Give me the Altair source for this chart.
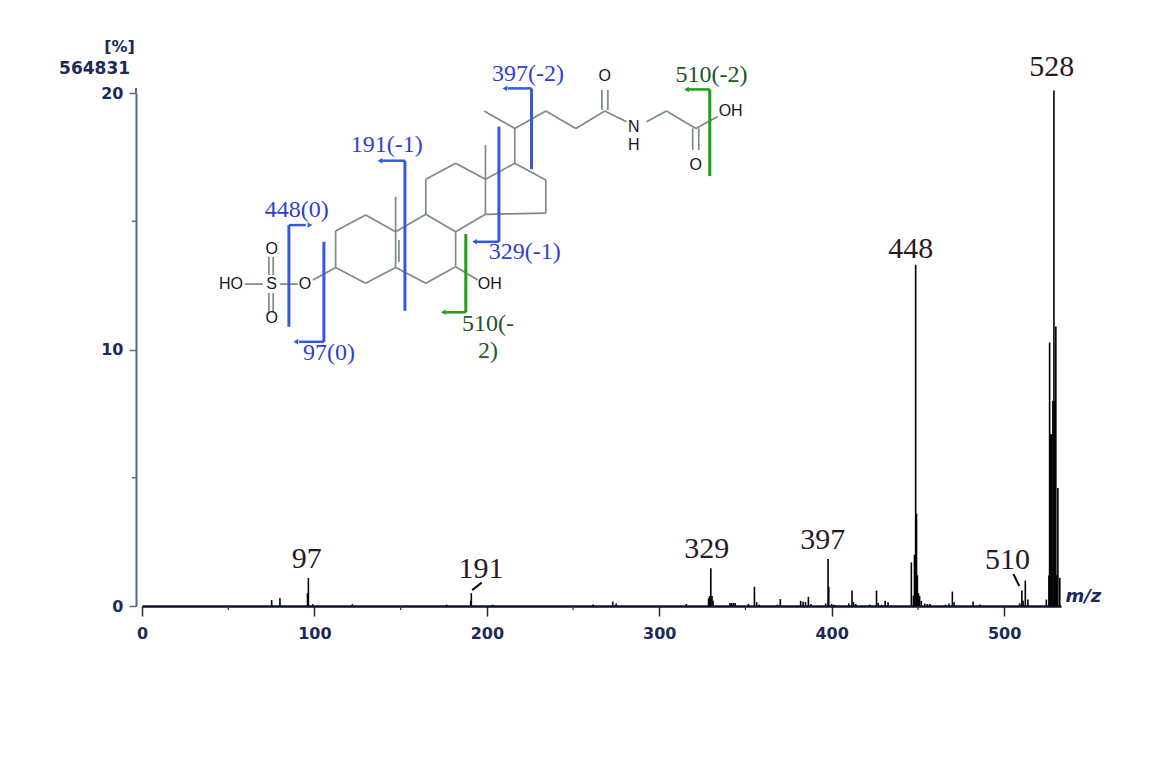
import altair as alt
import pandas as pd

# --- spectrum (m/z, relative intensity %) ---
PEAK_MZ = [75.2, 80, 96.0, 96.5, 99, 122, 176.6, 190.6, 191, 203.3, 261.7, 273, 275, 315.7,
           328.6, 329.2, 329.9, 330.6, 331.2, 341, 342, 343, 344, 351.7, 355.2, 356.5, 358, 368.5, 370.2,
           382, 383.4, 384.8, 386.5, 388, 396.5, 397.9, 398.3, 400, 401.5, 409.9, 411.8, 412.7, 414,
           422, 426, 427, 429, 431, 432.7, 446.2, 447.4, 448, 448.7, 449.2, 449.7, 450.3, 451, 452,
           454, 455.5, 457, 466, 468, 470, 471, 482, 486, 509, 510.3, 511, 512.3, 513.8,
           524.5, 526.0, 526.4, 527.1, 527.7, 528.3, 528.9, 529.4, 530.0, 530.5, 531.2, 532.3]
PEAK_PCT = [0.23, 0.3, 0.5, 1.09, 0.07, 0.07, 0.05, 0.2, 0.5, 0.05, 0.06, 0.17, 0.1, 0.08,
            0.3, 0.39, 1.47, 0.39, 0.2, 0.12, 0.12, 0.12, 0.12, 0.08, 0.75, 0.15, 0.05, 0.05, 0.27,
            0.2, 0.17, 0.15, 0.36, 0.08, 0.1, 1.83, 0.75, 0.08, 0.05, 0.1, 0.6, 0.15, 0.08,
            0.05, 0.6, 0.12, 0.05, 0.2, 0.15, 1.7, 0.4, 2.0, 13.3, 3.6, 1.2, 0.5, 0.4, 0.2,
            0.1, 0.08, 0.08, 0.05, 0.1, 0.56, 0.15, 0.18, 0.06, 0.1, 0.6, 0.2, 0.99, 0.25,
            0.25, 1.2, 10.27, 6.7, 6.7, 8.0, 20.1, 8.0, 10.9, 1.2, 4.6, 1.1]

# --- annotations ---
PEAK_LABELS = ["97", "191", "329", "397", "448", "510", "528"]
PEAK_LABEL_X = [95.6, 196.6, 327.6, 394.8, 445.8, 502, 527.6]
PEAK_LABEL_Y = [1.83, 1.44, 2.22, 2.57, 13.92, 1.8, 21.0]
LEADER = {"x": [191.5, 197, 505.4, 508.8], "y": [0.62, 0.91, 1.25, 0.78], "g": [1, 1, 2, 2]}

FRAG_BLUE_LABELS = ["448(0)", "97(0)", "191(-1)", "329(-1)", "397(-2)"]
FRAG_BLUE_X = [89.7, 108.4, 142, 222, 223.8]
FRAG_BLUE_Y = [15.44, 9.86, 17.97, 13.80, 20.74]
FRAG_GREEN_LABELS = ["510(-2)", "510(-", "2)"]
FRAG_GREEN_X = [330.3, 200.6, 200.6]
FRAG_GREEN_Y = [20.70, 10.99, 9.94]

ATOM_LABELS = ["HO", "S", "O", "O", "O", "OH", "O", "N", "H", "O", "OH"]
ATOM_X = [51.6, 75.2, 94.5, 75.2, 75.2, 201.7, 268.4, 285.2, 285.2, 321.2, 341.4]
ATOM_Y = [12.55, 12.55, 12.55, 13.92, 11.24, 12.55, 20.66, 18.67, 17.97, 17.20, 19.30]

# --- structure bonds: x1, y1, x2, y2 (in chart units) ---
BONDS = [
    (112.3,14.62,129.7,15.24),(129.7,15.24,147.1,14.59),(147.1,14.59,147.1,13.20),
    (147.1,13.20,129.7,12.58),(129.7,12.58,112.3,13.20),(112.3,13.20,112.3,14.62),
    (149.0,14.27,149.0,13.41),
    (147.1,14.59,164.6,15.27),(164.6,15.27,181.9,14.59),(181.9,14.59,181.9,13.23),
    (181.9,13.23,164.6,12.58),(164.6,12.58,147.1,13.20),
    (164.6,15.27,164.6,16.64),(164.6,16.64,181.9,17.26),(181.9,17.26,199.2,16.64),
    (199.2,16.64,199.2,15.27),(199.2,15.27,181.9,14.59),
    (147.1,14.59,147.1,15.96),(199.2,16.64,199.2,17.97),
    (199.2,16.64,216.2,17.26),(216.2,17.26,234.2,16.61),(234.2,16.61,234.2,15.32),
    (234.2,15.32,199.2,15.27),
    (216.2,17.26,216.2,18.62),(216.2,18.62,198.4,19.30),(216.2,18.62,234.2,19.30),
    (234.2,19.30,251.6,18.62),(251.6,18.62,268.4,19.30),
    (266.7,19.34,266.7,20.12),(270.2,19.34,270.2,20.12),
    (268.4,19.30,281.0,18.88),(292.6,18.88,304.2,19.30),(304.2,19.30,321.2,18.62),
    (319.4,18.62,319.4,17.78),(322.9,18.62,322.9,17.78),(321.2,18.62,333.9,19.08),
    (112.3,13.20,99.1,12.71),(90.4,12.55,80.0,12.55),(70.1,12.55,59.7,12.55),
    (73.6,13.61,73.6,12.90),(76.1,13.61,76.1,12.90),(73.6,12.20,73.6,11.45),(76.1,12.20,76.1,11.45),
    (181.9,13.23,194.8,12.71),
]
BLUE_BARS = [
    (85.2,14.85,85.2,10.89),(105.5,14.20,105.5,10.30),(152.5,17.36,152.5,11.51),
    (207.0,18.69,207.0,14.20),(225.9,20.18,225.9,17.03),
]
BLUE_ARMS = [
    (85.2,14.85,95.0,14.85),(105.5,10.30,91.0,10.30),(152.5,17.36,139.0,17.36),
    (207.0,14.20,194.0,14.20),(225.9,20.18,212.0,20.18),
]
BLUE_TIPS = {"x": [97.4, 89.2, 138.0, 192.9, 210.4], "y": [14.85, 10.30, 17.36, 14.20, 20.18],
             "s": ["triangle-right", "triangle-left", "triangle-left", "triangle-left", "triangle-left"]}
GREEN_BARS = [(329.3,20.14,329.3,16.76),(187.8,14.50,187.8,11.45)]
GREEN_ARMS = [(329.3,20.14,317.0,20.14),(187.8,11.45,176.0,11.45)]
GREEN_TIPS = {"x": [315.8, 174.8], "y": [20.14, 11.45]}

X_TICKS = [0, 100, 200, 300, 400, 500]
X_MINOR = [50, 150, 250, 350, 450]
Y_TICKS = [0, 10, 20]
Y_MINOR = [5, 15]

NAVY = "#1c2a58"
AXIS_BLUE = "#56658f"
BLUE = "#3558dc"
BLUE_TEXT = "#2f3fcf"
GREEN = "#1f9e12"
GREEN_TEXT = "#1c5a24"
BOND = "#7d8a8a"

xs = alt.Scale(domain=[0, 533], nice=False, zero=False)
ys = alt.Scale(domain=[0, 20], nice=False, zero=False)
xa = alt.Axis(values=X_TICKS, format="d", grid=False, tickSize=10, tickWidth=1.5, tickColor=NAVY, title=None,
              domainColor="#0c1230", domainWidth=2.5, labelFont="DejaVu Sans", labelFontSize=16,
              labelFontWeight="bold", labelColor=NAVY, labelPadding=9, labelFlush=False)
ya = alt.Axis(values=Y_TICKS, format="d", grid=False, tickSize=7, tickWidth=1.5, tickColor=AXIS_BLUE, title=None,
              domainColor=AXIS_BLUE, domainWidth=2, offset=6, labelFont="DejaVu Sans", labelFontSize=16,
              labelFontWeight="bold", labelColor=NAVY, labelPadding=6)


def X(f):
    return alt.X(f, scale=xs, axis=xa, title=None)


def Y(f):
    return alt.Y(f, scale=ys, axis=ya, title=None)


def rule(rows, color, width):
    df = pd.DataFrame(rows, columns=["x", "y", "x2", "y2"])
    return alt.Chart(df).mark_rule(color=color, strokeWidth=width).encode(
        x=X("x:Q"), x2="x2:Q", y=Y("y:Q"), y2="y2:Q")


def text(labels, px, py, font, size, color, **kw):
    df = pd.DataFrame({"t": labels, "x": px, "y": py})
    return alt.Chart(df).mark_text(font=font, fontSize=size, color=color,
                                   align="center", baseline="middle", **kw).encode(
        x=X("x:Q"), y=Y("y:Q"), text="t:N")


minor_x = rule([(v, 0, v, -0.16) for v in X_MINOR], NAVY, 1.2)
minor_y = rule([(-3.5, v, -5.8, v) for v in Y_MINOR], AXIS_BLUE, 1.5)
y_top = rule([(-3.5, 20, -3.5, 20.2)], AXIS_BLUE, 2)

peaks = alt.Chart(pd.DataFrame({"mz": PEAK_MZ, "pct": PEAK_PCT, "b": [0] * len(PEAK_MZ)})).mark_rule(
    color="#000000", strokeWidth=1.6).encode(x=X("mz:Q"), y=Y("pct:Q"), y2="b:Q")

leader = alt.Chart(pd.DataFrame(LEADER)).mark_line(color="#111111", strokeWidth=2).encode(
    x=X("x:Q"), y=Y("y:Q"), detail="g:N")

blue_tips = alt.Chart(pd.DataFrame(BLUE_TIPS)).mark_point(filled=True, color=BLUE, size=30, opacity=1).encode(
    x=X("x:Q"), y=Y("y:Q"), shape=alt.Shape("s:N", scale=None))
green_tips = alt.Chart(pd.DataFrame(GREEN_TIPS)).mark_point(
    filled=True, color=GREEN, size=30, opacity=1, shape="triangle-left").encode(x=X("x:Q"), y=Y("y:Q"))

chart = alt.layer(
    minor_x, minor_y, y_top, peaks, leader,
    rule(BONDS, BOND, 1.7),
    rule(BLUE_BARS, BLUE, 3), rule(BLUE_ARMS, BLUE, 2.5), blue_tips,
    rule(GREEN_BARS, GREEN, 3), rule(GREEN_ARMS, GREEN, 2.5), green_tips,
    text(ATOM_LABELS, ATOM_X, ATOM_Y, "Liberation Sans", 16, "#15151c"),
    text(PEAK_LABELS, PEAK_LABEL_X, PEAK_LABEL_Y, "Liberation Serif", 30, "#2a1a20"),
    text(FRAG_BLUE_LABELS, FRAG_BLUE_X, FRAG_BLUE_Y, "Liberation Serif", 24, BLUE_TEXT),
    text(FRAG_GREEN_LABELS, FRAG_GREEN_X, FRAG_GREEN_Y, "Liberation Serif", 24, GREEN_TEXT),
    text(["m/z"], [546], [0.35], "DejaVu Sans", 18, NAVY, fontStyle="italic", fontWeight="bold"),
    text(["[%]"], [-13], [21.79], "DejaVu Sans", 16, NAVY, fontWeight="bold"),
    text(["564831"], [-27.5], [20.93], "DejaVu Sans", 17, NAVY, fontWeight="bold"),
).properties(
    width=919, height=513,
    autosize=alt.AutoSizeParams(type="none"),
    padding={"left": 134, "top": 85, "right": 100, "bottom": 60},
    background="white",
).configure_view(stroke=None)

chart.save("out.html", embed_options={"renderer": "svg", "actions": False})
